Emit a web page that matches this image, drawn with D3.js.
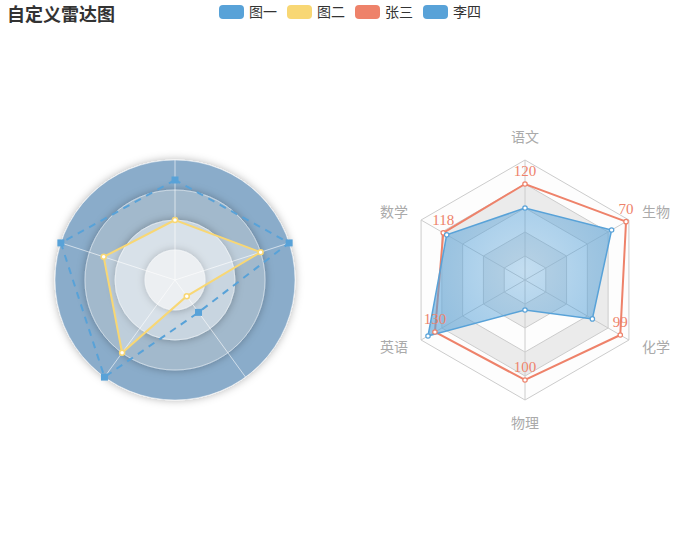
<!DOCTYPE html>
<html>
<head>
<meta charset="utf-8">
<script src="https://cdn.jsdelivr.net/npm/d3@7"></script>
<style>
  body { margin: 0; background: #fff; }
  text { font-family: "Noto Sans CJK SC", "Noto Sans", sans-serif; }
</style>
</head>
<body>
<div id="chart"></div>
<script>
const width = 700;
const height = 560;

// legend
const legendNames = ["图一", "图二", "张三", "李四"];
const legendColors = ["#58a2d8", "#f8d774", "#ee826a", "#58a2d8"];

// left radar (circle)
const leftIndicators = ["指标一", "指标二", "指标三", "指标四", "指标五"];
const leftMin = [0, 0, 0, -120, 0];
const leftMax = [120, 8, 0.4, 0, 2000];
const fig1 = [100, 8, 0.4, -80, 2000];
const fig2 = [60, 5, 0.3, -100, 1500];
const ringColors = ["#e4e8ec", "#c8d5e0", "#a2b9cc", "#8aacca"];

// right radar (polygon)
const subjects = ["语文", "数学", "英语", "物理", "化学", "生物"];
const subjectMax = [150, 150, 150, 120, 108, 72];
const zhangsan = [120, 118, 130, 100, 99, 70];
const lisi = [90, 113, 140, 30, 70, 60];

const R = 120;
const cy = height / 2;
const leftCx = width * 0.25;
const rightCx = width * 0.75;

const svg = d3.select("#chart").append("svg")
  .attr("width", width).attr("height", height);

const defs = svg.append("defs");
const shadow = defs.append("filter").attr("id", "shadow")
  .attr("x", "-20%").attr("y", "-20%").attr("width", "140%").attr("height", "140%");
shadow.append("feDropShadow").attr("dx", 0).attr("dy", 0)
  .attr("stdDeviation", 4).attr("flood-color", "rgba(0,0,0,0.3)");

const grad = defs.append("radialGradient").attr("id", "lisiFill")
  .attr("gradientUnits", "userSpaceOnUse")
  .attr("cx", rightCx).attr("cy", cy - 10).attr("r", R);
grad.append("stop").attr("offset", 0).attr("stop-color", "rgba(88,162,216,0.35)");
grad.append("stop").attr("offset", 1).attr("stop-color", "rgba(88,162,216,0.65)");

// angle of axis i, counterclockwise from top
function angle(i, n) { return Math.PI / 2 + i * 2 * Math.PI / n; }
function pt(cx, i, n, r) {
  const a = angle(i, n);
  return [cx + r * Math.cos(a), cy - r * Math.sin(a)];
}

// ---------- left radar ----------
const leftScales = leftIndicators.map((d, i) =>
  d3.scaleLinear().domain([leftMin[i], leftMax[i]]).range([0, R]));
const gl = svg.append("g");
const levels = d3.range(4, 0, -1);
gl.selectAll("circle.ring").data(levels).join("circle")
  .attr("cx", leftCx).attr("cy", cy)
  .attr("r", d => d * R / 4)
  .attr("fill", d => ringColors[d - 1])
  .attr("stroke", "rgba(255,255,255,0.5)")
  .attr("filter", "url(#shadow)");
gl.selectAll("line.axis").data(leftIndicators).join("line")
  .attr("x1", leftCx).attr("y1", cy)
  .attr("x2", (d, i) => pt(leftCx, i, 5, R)[0])
  .attr("y2", (d, i) => pt(leftCx, i, 5, R)[1])
  .attr("stroke", "rgba(255,255,255,0.6)");

function leftPts(vals) {
  return vals.map((v, i) => pt(leftCx, i, 5, leftScales[i](v)));
}
const line = d3.line().curve(d3.curveLinearClosed);

const p2 = leftPts(fig2);
gl.append("path").attr("d", line(p2))
  .attr("fill", "rgba(255,255,255,0.3)")
  .attr("stroke", legendColors[1]).attr("stroke-width", 2);
gl.selectAll("circle.p2").data(p2).join("circle")
  .attr("cx", d => d[0]).attr("cy", d => d[1]).attr("r", 2.5)
  .attr("fill", "#fff").attr("stroke", legendColors[1]).attr("stroke-width", 1.5);

const p1 = leftPts(fig1);
gl.append("path").attr("d", line(p1))
  .attr("fill", "none")
  .attr("stroke", legendColors[0]).attr("stroke-width", 2)
  .attr("stroke-dasharray", "7,6");
gl.selectAll("rect.p1").data(p1).join("rect")
  .attr("x", d => d[0] - 3.5).attr("y", d => d[1] - 3.5)
  .attr("width", 7).attr("height", 7)
  .attr("fill", legendColors[0]);

// ---------- right radar ----------
const rightScales = subjects.map((d, i) =>
  d3.scaleLinear().domain([0, subjectMax[i]]).range([0, R]));
const gr = svg.append("g");
const n = subjects.length;
function hexAt(r) { return d3.range(n).map(i => pt(rightCx, i, n, r)); }

d3.range(5, 0, -1).forEach(k => {
  gr.append("path").attr("d", line(hexAt(k * R / 5)))
    .attr("fill", k % 2 === 0 ? "#ebebeb" : "#fdfdfd")
    .attr("stroke", "#ccc");
});
gr.selectAll("line.axis").data(subjects).join("line")
  .attr("x1", rightCx).attr("y1", cy)
  .attr("x2", (d, i) => pt(rightCx, i, n, R)[0])
  .attr("y2", (d, i) => pt(rightCx, i, n, R)[1])
  .attr("stroke", "#ccc");

// axis names
gr.selectAll("text.name").data(subjects).join("text")
  .attr("x", (d, i) => pt(rightCx, i, n, R + 15)[0])
  .attr("y", (d, i) => pt(rightCx, i, n, R + 15)[1])
  .attr("text-anchor", (d, i) => {
    const c = Math.cos(angle(i, n));
    return Math.abs(c) < 0.01 ? "middle" : (c < 0 ? "end" : "start");
  })
  .attr("dy", (d, i) => {
    const s = Math.sin(angle(i, n));
    return s > 0.99 ? "-0.2em" : (s < -0.99 ? "0.95em" : "0.35em");
  })
  .attr("font-size", 14).attr("fill", "#aaa")
  .text(d => d);

const pz = zhangsan.map((v, i) => pt(rightCx, i, n, rightScales[i](v)));
const pl = lisi.map((v, i) => pt(rightCx, i, n, rightScales[i](v)));

gr.append("path").attr("d", line(pz))
  .attr("fill", "none").attr("stroke", legendColors[2]).attr("stroke-width", 2);
gr.append("path").attr("d", line(pl))
  .attr("fill", "url(#lisiFill)").attr("stroke", legendColors[3]).attr("stroke-width", 1.5);

gr.selectAll("circle.pz").data(pz).join("circle")
  .attr("cx", d => d[0]).attr("cy", d => d[1]).attr("r", 2.2)
  .attr("fill", "#fff").attr("stroke", legendColors[2]).attr("stroke-width", 1.2);
gr.selectAll("circle.pl").data(pl).join("circle")
  .attr("cx", d => d[0]).attr("cy", d => d[1]).attr("r", 2.2)
  .attr("fill", "#fff").attr("stroke", legendColors[3]).attr("stroke-width", 1.2);

gr.selectAll("text.val").data(pz).join("text")
  .attr("x", d => d[0]).attr("y", d => d[1] - 8)
  .attr("text-anchor", "middle")
  .style("font-family", "'Liberation Serif', serif")
  .attr("font-size", 15).attr("fill", legendColors[2])
  .text((d, i) => zhangsan[i]);

// ---------- title + legend ----------
svg.append("text")
  .attr("x", 7).attr("y", 21)
  .attr("font-size", 18).attr("font-weight", "bold").attr("fill", "#333")
  .text("自定义雷达图");

const legendX = [219, 287, 355, 423];
const lg = svg.append("g");
lg.selectAll("rect").data(legendNames).join("rect")
  .attr("x", (d, i) => legendX[i]).attr("y", 5)
  .attr("width", 25).attr("height", 14).attr("rx", 4)
  .attr("fill", (d, i) => legendColors[i]);
lg.selectAll("text").data(legendNames).join("text")
  .attr("x", (d, i) => legendX[i] + 30).attr("y", 17)
  .attr("font-size", 14).attr("fill", "#333")
  .text(d => d);
</script>
</body>
</html>
